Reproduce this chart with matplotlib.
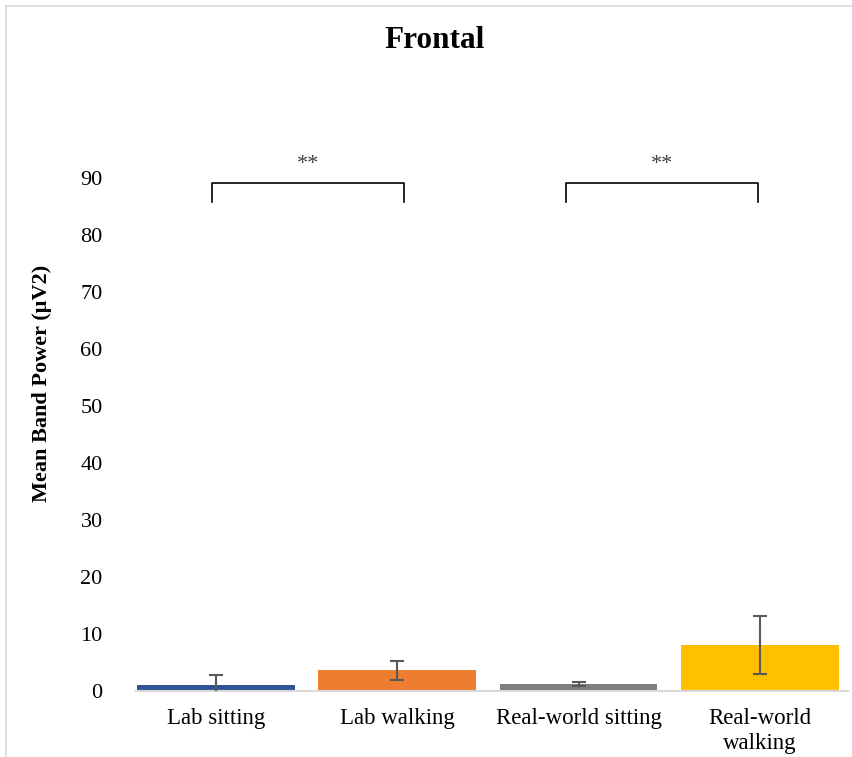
import numpy as np
import matplotlib
matplotlib.use("Agg")
from matplotlib import pyplot as plt
from matplotlib.patches import Rectangle

plt.rcParams['font.family'] = ['Liberation Serif', 'DejaVu Serif']

# band power per condition
conditions = ['Lab sitting', 'Lab walking', 'Real-world sitting', 'Real-world\nwalking']
means = [1.0, 3.6, 1.2, 8.0]
errors = [1.8, 1.6, 0.4, 5.1]
colors = ['#2F5597', '#ED7D31', '#7F7F7F', '#FFC000']

# significance brackets (from, to, label)
brackets = [(-0.02, 1.04, '**'), (1.93, 2.99, '**')]
bracket_top = 89.1
bracket_leg = 85.8
star_y = 92.3

fig = plt.figure(figsize=(8.52, 7.57), dpi=100)
ax = fig.add_axes([136/852, 1 - 691/757, 712/852, 570/757])

x = np.arange(len(conditions))
ax.bar(x, means, width=0.87, color=colors, zorder=2)
ax.errorbar(x, means, yerr=errors, fmt='none', ecolor='#595959',
            elinewidth=1.5, capsize=5, capthick=1.5, zorder=3)

for x0, x1, label in brackets:
    ax.plot([x0, x0, x1, x1], [bracket_leg, bracket_top, bracket_top, bracket_leg],
            color='black', lw=1.2, clip_on=False)
    ax.text((x0 + x1) / 2, star_y, label, ha='center', va='center',
            fontsize=16, color='#404040')

ax.set_xlim(-0.44, 3.486)
ax.set_ylim(0, 100)
ax.set_yticks(np.arange(0, 100, 10))
ax.set_xticks(x)
ax.set_xticklabels(conditions, fontsize=16.5, linespacing=1.25)
ax.tick_params(axis='y', labelsize=16, length=0, pad=24)
ax.tick_params(axis='x', length=0, pad=12)

for side in ['top', 'right', 'left']:
    ax.spines[side].set_visible(False)
ax.spines['bottom'].set_color('#D9D9D9')
ax.spines['bottom'].set_linewidth(1.5)

ax.set_ylabel('Mean Band Power (µV2)', fontsize=16, fontweight='bold')
ax.yaxis.set_label_coords(-0.118, 0.54)
fig.text(435/852, 1 - 41/757, 'Frontal', ha='center', va='center',
         fontsize=22.5, fontweight='bold')

# chart area border (left and top edges fall inside the image)
top = 1 - 6/757
fig.patches.append(Rectangle((6/852, -0.1), 2, top + 0.1, transform=fig.transFigure,
                             fill=False, edgecolor='#D9D9D9', lw=1.2))

fig.savefig('out.png', dpi=100)
